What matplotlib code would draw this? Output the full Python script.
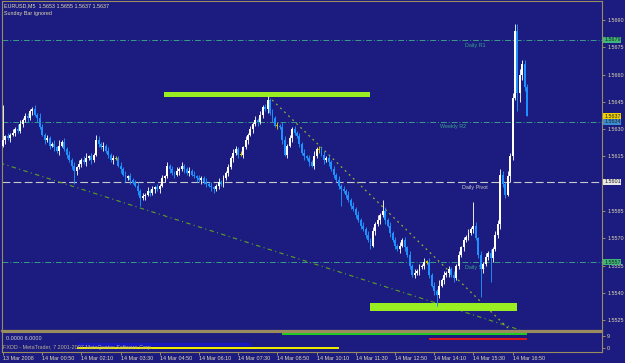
"""EURUSD M5 candles on a MetaTrader-style navy chart with pivot lines."""
import matplotlib
matplotlib.use("Agg")
import matplotlib.pyplot as plt
import numpy as np
import matplotlib.transforms as mtransforms

plt.rcParams["font.family"] = ["Liberation Sans", "DejaVu Sans"]

# closes in pips above 1.5500, one per 5-minute bar
closes = [124, 126, 125, 127, 128, 130, 129, 133, 135, 137,
          136, 140, 141, 138, 136, 131, 127, 124, 125, 121,
          122, 120, 118, 121, 123, 119, 116, 113, 110, 107,
          109, 111, 113, 112, 114, 115, 113, 116, 124, 122,
          120, 121, 118, 116, 113, 114, 114, 110, 108, 105,
          103, 104, 102, 101, 99, 96, 92, 93, 94, 96,
          95, 97, 98, 97, 99, 103, 104, 110, 108, 106,
          105, 107, 108, 110, 108, 106, 107, 105, 104, 103,
          102, 103, 101, 100, 99, 98, 97, 99, 101, 100,
          103, 106, 109, 114, 117, 119, 116, 116, 120, 124,
          127, 130, 133, 135, 134, 138, 142, 141, 146, 139,
          136, 132, 132, 131, 124, 116, 121, 125, 130, 128,
          126, 122, 117, 115, 114, 112, 110, 115, 119, 119,
          116, 113, 114, 112, 108, 105, 102, 99, 97, 96,
          94, 91, 88, 86, 83, 80, 77, 75, 72, 69,
          66, 74, 78, 80, 83, 85, 80, 77, 73, 69,
          66, 64, 66, 69, 65, 61, 55, 50, 51, 52,
          54, 55, 57, 57, 50, 44, 41, 39, 44, 47,
          50, 51, 53, 50, 48, 55, 61, 65, 69, 71,
          73, 75, 77, 70, 61, 53, 56, 60, 62, 59,
          64, 72, 78, 105, 100, 94, 104, 115, 147, 184,
          150, 160, 166, 153, 137]
first_open = 121
up_wick = [19, 1, 2, 1, 2, 1, 3, 2, 1, 2,
           2, 1, 1, 2, 1, 3, 2, 1, 2, 1,
           1, 2, 1, 3, 1, 2, 1, 2, 1, 2,
           1, 2, 1, 2, 3, 1, 2, 1, 3, 2,
           1, 2, 1, 2, 1, 2, 1, 1, 2, 1,
           2, 1, 2, 1, 1, 2, 1, 2, 1, 2,
           1, 2, 1, 2, 1, 2, 1, 2, 1, 2,
           1, 2, 1, 2, 1, 1, 2, 1, 2, 1,
           2, 1, 1, 2, 1, 2, 1, 1, 2, 1,
           2, 1, 2, 1, 2, 2, 1, 2, 1, 2,
           1, 2, 1, 2, 1, 2, 1, 2, 2, 1,
           2, 1, 2, 1, 3, 2, 1, 2, 1, 2,
           1, 2, 1, 2, 1, 2, 1, 3, 1, 2,
           1, 2, 1, 2, 1, 2, 1, 2, 1, 2,
           1, 2, 1, 2, 1, 2, 1, 2, 1, 2,
           1, 2, 1, 3, 1, 6, 2, 1, 2, 1,
           2, 1, 2, 1, 2, 1, 2, 1, 2, 1,
           2, 1, 2, 1, 2, 1, 2, 1, 3, 1,
           2, 1, 2, 1, 2, 1, 2, 1, 2, 1,
           2, 1, 13, 2, 1, 2, 1, 2, 1, 2,
           1, 2, 2, 3, 2, 1, 3, 2, 3, 4,
           4, 3, 2, 2, 2]
dn_wick = [1, 2, 1, 2, 1, 2, 1, 1, 2, 1,
           2, 1, 2, 1, 2, 1, 1, 2, 1, 2,
           1, 2, 1, 2, 1, 1, 2, 1, 2, 7,
           2, 1, 2, 1, 2, 1, 2, 1, 1, 2,
           1, 2, 1, 2, 1, 2, 1, 1, 2, 1,
           2, 1, 2, 1, 1, 2, 4, 1, 2, 1,
           2, 1, 2, 1, 2, 1, 2, 1, 2, 1,
           2, 1, 2, 1, 2, 1, 2, 1, 1, 2,
           1, 2, 1, 2, 1, 2, 2, 1, 2, 1,
           2, 1, 2, 1, 2, 1, 2, 1, 2, 1,
           2, 1, 2, 1, 2, 1, 2, 1, 2, 1,
           2, 1, 2, 1, 2, 1, 2, 1, 2, 1,
           1, 2, 1, 2, 1, 2, 1, 2, 1, 2,
           1, 2, 1, 2, 1, 2, 1, 2, 9, 1,
           2, 1, 2, 1, 2, 1, 2, 1, 2, 1,
           2, 1, 2, 1, 2, 1, 2, 1, 2, 1,
           2, 1, 2, 1, 2, 1, 2, 1, 2, 1,
           2, 1, 2, 1, 2, 1, 2, 6, 2, 1,
           2, 1, 2, 1, 2, 1, 2, 1, 2, 1,
           2, 1, 2, 1, 2, 15, 2, 1, 2, 13,
           2, 1, 2, 3, 2, 2, 1, 3, 2, 1,
           10, 5, 3, 2, 0]

time_ticks = [0, 16, 32, 48, 64, 80, 96, 112, 128, 144, 160, 176, 192, 208]
time_labels = ["13 Mar 2008", "14 Mar 00:50", "14 Mar 02:10", "14 Mar 03:30",
               "14 Mar 04:50", "14 Mar 06:10", "14 Mar 07:30", "14 Mar 08:50",
               "14 Mar 10:10", "14 Mar 11:30", "14 Mar 12:50", "14 Mar 14:10",
               "14 Mar 15:30", "14 Mar 16:50"]
price_ticks = [1.5525, 1.5540, 1.5555, 1.5570, 1.5585, 1.5600,
               1.5615, 1.5630, 1.5645, 1.5660, 1.5675, 1.5690]
hidden_tick = 1.5600  # sits under the pivot price box

# pivot levels: (price, name, label bar)
pivots = [(1.5679, "Daily R1", 188.6), (1.5634, "Weekly R2", 178.4),
          (1.5601, "Daily Pivot", 187.3), (1.5557, "Daily S1", 188.6)]
# drawn objects (bar, price)
trend1 = ([-1.2, 211.0], [1.56114, 1.55197])
trend2 = ([108.2, 206.9], [1.56482, 1.55197])
zone_top = (65.7, 149.8, 1.56477, 1.56504)
zone_bot = (149.8, 209.8, 1.55303, 1.55347)
# indicator window segments: (bar0, bar1, level)
ind_green = (113.9, 214.0, 10.3)
ind_red = (173.9, 214.0, 6.8)
ind_yellow = (30.0, 137.0, 0.2)
ind_blue = (30.0, 101.0, 2.8)

BG = "#1c1c80"
FRAME = "#9a8c5e"
TXT = "#e0d8b0"
FS = 3.9
W, H = 625, 363

c = np.array(closes, float)
o = np.concatenate([[first_open], c[:-1]])
hi = np.maximum(o, c) + np.array(up_wick)
lo = np.minimum(o, c) - np.array(dn_wick)
to_px = lambda a: 1.55 + np.asarray(a) / 10000.0
c, o, hi, lo = to_px(c), to_px(o), to_px(hi), to_px(lo)
x = np.arange(len(c))

fig = plt.figure(figsize=(W / 100, H / 100), dpi=100, facecolor=BG)
ax = fig.add_axes([2 / W, 1 - 331 / H, 600 / W, 330 / H], facecolor=BG)
ax2 = fig.add_axes([2 / W, 1 - 352 / H, 600 / W, 20 / H], facecolor=BG)
XL = (-0.41, 244.5)

# pivot lines
for p, name, bx in pivots:
    if name == "Daily Pivot":
        ax.axhline(p, color="#c8c8c8", lw=0.8, dashes=(7, 3), zorder=1)
        col = "#c8c8c8"
    else:
        ax.axhline(p, color="#3a9a8a", lw=0.7, dashes=(6, 2, 1, 2), zorder=1)
        col = "#3aa08a"
    ax.text(bx, p - 0.00028, name, color=col, fontsize=FS, va="center", ha="left", zorder=1)

ax.plot(*trend1, color="#5ea020", lw=0.8, dashes=(4, 3, 1, 3), zorder=1)
ax.plot(*trend2, color="#8cb030", lw=0.9, dashes=(1.5, 3), zorder=1)

for b0, b1, p0, p1 in (zone_top, zone_bot):
    ax.fill_between([b0, b1], p0, p1, color="#99ee22", lw=0, zorder=2)

# candles
up = c > o
dn = c < o
dj = c == o
ax.vlines(x[up], lo[up], hi[up], color="#e8e8f0", lw=0.7, zorder=3)
ax.vlines(x[dn], lo[dn], hi[dn], color="#1e8cf0", lw=0.7, zorder=3)
ax.vlines(x[dj], lo[dj], hi[dj], color="#d8c000", lw=0.7, zorder=3)
ax.bar(x[up], (c - o)[up], bottom=o[up], width=0.8, color="#ffffff", lw=0, zorder=4)
ax.bar(x[dn], (c - o)[dn], bottom=o[dn], width=0.8, color="#1e90ff", lw=0, zorder=4)
ax.bar(x[dj], 0.00006, bottom=o[dj] - 0.00003, width=0.9, color="#d8c000", lw=0, zorder=4)

ax.set_xlim(*XL)
ax.set_ylim(1.55191, 1.57004)
ax.set_xticks([])
ax.yaxis.tick_right()
ax.set_yticks(price_ticks)
ax.set_yticklabels(["" if v == hidden_tick else f"{v:.4f}" for v in price_ticks])
ax.tick_params(axis="y", colors=FRAME, length=2.5, width=0.7, pad=1.2,
               labelsize=FS, labelcolor=TXT)
for t in ax.get_yticklabels():
    t.set_horizontalalignment("left")
for s in ax.spines.values():
    s.set_color(FRAME)
    s.set_linewidth(0.8)
ax.spines["bottom"].set_linewidth(1.6)

# price boxes on the scale
trans = mtransforms.blended_transform_factory(ax.transAxes, ax.transData)
boxes = [(1.5679, "#3cb878"), (1.5637, "#f0d000"), (1.5634, "#3c8cd0"),
         (1.5601, "#e8e8e8"), (1.5557, "#3cb878")]
for p, fc in boxes:
    ax.text(1.0035, p, f"{p:.4f}", transform=trans, fontsize=FS, color="#202020",
            va="center", ha="left", clip_on=False, zorder=6,
            bbox=dict(boxstyle="square,pad=0.12", fc=fc, ec="none"))

# indicator window
for (b0, b1, lv), col in ((ind_green, "#20d020"), (ind_red, "#e01818"), (ind_yellow, "#f0f000")):
    ax2.hlines(lv, b0, b1, color=col, lw=1.4)
ax2.hlines(ind_blue[2], ind_blue[0], ind_blue[1], color="#1818c0", lw=2.4)
ax2.set_xlim(*XL)
ax2.set_ylim(-3, 12)
ax2.yaxis.tick_right()
ax2.set_yticks([0, 9])
ax2.tick_params(axis="y", colors=FRAME, length=2.5, width=0.7, pad=1.2,
                labelsize=FS, labelcolor=TXT)
ax2.set_xticks(time_ticks)
ax2.set_xticklabels(time_labels)
ax2.tick_params(axis="x", colors=FRAME, length=2.5, width=0.7, pad=0.5,
                labelsize=FS, labelcolor=TXT)
for t in ax2.get_xticklabels():
    t.set_horizontalalignment("left")
for t in ax2.get_yticklabels():
    t.set_horizontalalignment("left")
for s in ax2.spines.values():
    s.set_color(FRAME)
    s.set_linewidth(0.8)

fig.text(4 / W, 1 - 6 / H, "EURUSD,M5  1.5653 1.5655 1.5637 1.5637", color=TXT,
         fontsize=FS, va="center", ha="left")
fig.text(4 / W, 1 - 14 / H, "Sunday Bar ignored", color=TXT, fontsize=FS,
         va="center", ha="left")
fig.text(6 / W, 1 - 338 / H, "0.0000 6.0000", color="#d0d0d0", fontsize=FS,
         va="center", ha="left")
fig.text(3 / W, 1 - 347 / H, "FXDD - MetaTrader, 7 2001-2007 MetaQuotes Software Corp.",
         color="#b8b090", fontsize=FS, va="center", ha="left")

fig.savefig("out.png", dpi=100, facecolor=BG)
